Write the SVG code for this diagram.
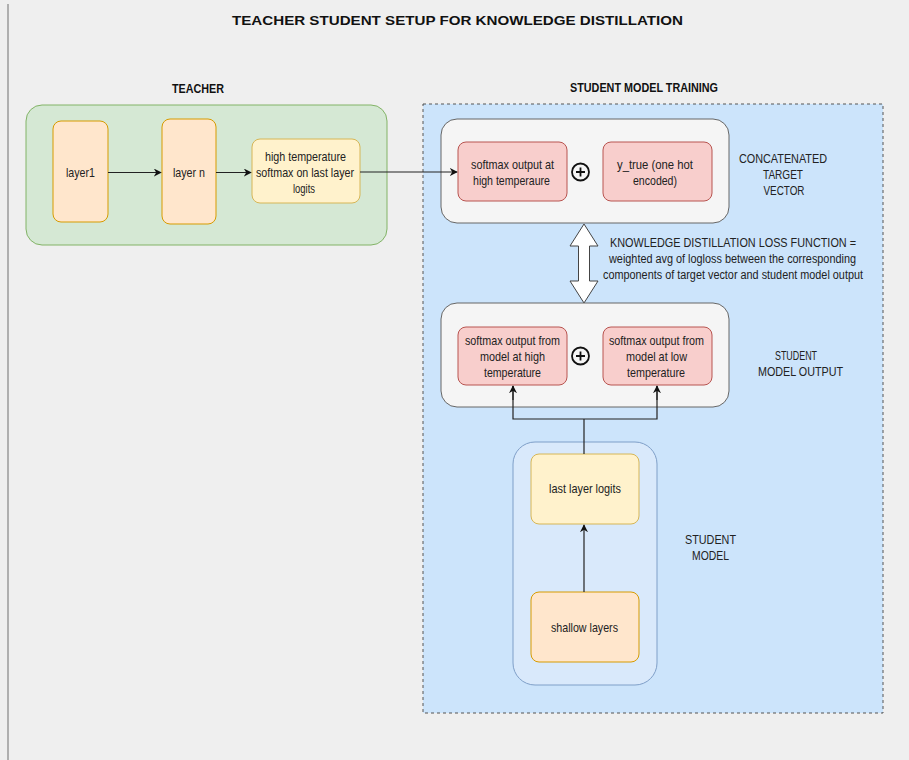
<svg xmlns="http://www.w3.org/2000/svg" width="909" height="760" viewBox="0 0 909 760">
<defs>
<marker id="arr" viewBox="0 0 10 10" refX="9" refY="5" markerWidth="8" markerHeight="8" markerUnits="userSpaceOnUse" orient="auto">
<path d="M0,0 L10,5 L0,10 L3,5 z" fill="#111"/>
</marker>
<style>
text{font-family:"Liberation Sans",Arial,sans-serif;fill:#222;font-size:13px;text-anchor:middle}
.b{font-weight:bold;fill:#111}
.s{font-size:12px}
.orange{fill:#ffe6cc;stroke:#d79b00;stroke-width:1}
.yellow{fill:#fff2cc;stroke:#d6b656;stroke-width:1}
.red{fill:#f8cecc;stroke:#b85450;stroke-width:1}
.white{fill:#f5f5f5;stroke:#666;stroke-width:1}
.edge{fill:none;stroke:#222;stroke-width:1.2}
</style>
</defs>
<rect x="0" y="0" width="909" height="760" fill="#efefef"/>
<line x1="8" y1="4" x2="8" y2="760" stroke="#9a9a9a" stroke-width="1.5"/>

<text class="b" x="457.5" y="25" font-size="17" textLength="451" lengthAdjust="spacingAndGlyphs">TEACHER STUDENT SETUP FOR KNOWLEDGE DISTILLATION</text>
<text class="b" x="198" y="93" textLength="52" lengthAdjust="spacingAndGlyphs">TEACHER</text>
<text class="b" x="644" y="92" textLength="148" lengthAdjust="spacingAndGlyphs">STUDENT MODEL TRAINING</text>

<g id="teacher">
<rect x="26" y="105" width="361" height="140" rx="16" fill="#d5e8d4" stroke="#82b366" stroke-width="1"/>
</g>
<g id="student-training">
<rect x="423" y="104" width="460" height="609" fill="#cce4fb" stroke="#555" stroke-width="1" stroke-dasharray="3,3"/>
</g>

<g id="layer1">
<rect class="orange" x="53" y="121" width="55" height="101" rx="8"/>
<text x="80.5" y="177" textLength="29" lengthAdjust="spacingAndGlyphs">layer1</text>
</g>
<g id="layern">
<rect class="orange" x="162" y="119" width="54" height="105" rx="8"/>
<text x="189" y="177" textLength="32" lengthAdjust="spacingAndGlyphs">layer n</text>
</g>
<g id="teacher-softmax">
<rect class="yellow" x="252" y="139" width="108" height="64" rx="8"/>
<text x="305.5" y="161" textLength="81" lengthAdjust="spacingAndGlyphs">high temperature</text>
<text x="305" y="177" textLength="98" lengthAdjust="spacingAndGlyphs">softmax on last layer</text>
<text x="304" y="193" textLength="22" lengthAdjust="spacingAndGlyphs">logits</text>
</g>

<g id="target-vector">
<rect class="white" x="441" y="119" width="288" height="104" rx="16"/>
</g>
<g id="softmax-high">
<rect class="red" x="458" y="142" width="109" height="59" rx="8"/>
<text x="512.5" y="169" textLength="83" lengthAdjust="spacingAndGlyphs">softmax output at</text>
<text x="511.5" y="185" textLength="77" lengthAdjust="spacingAndGlyphs">high temperaure</text>
</g>
<g id="plus1">
<circle cx="580.5" cy="172" r="8.5" fill="none" stroke="#111" stroke-width="1.8"/>
<path d="M576,172 H585 M580.5,167.5 V176.5" stroke="#111" stroke-width="1.8"/>
</g>
<g id="ytrue">
<rect class="red" x="603" y="142" width="109" height="59" rx="8"/>
<text x="655" y="169" textLength="76" lengthAdjust="spacingAndGlyphs">y_true (one hot</text>
<text x="655" y="185" textLength="44" lengthAdjust="spacingAndGlyphs">encoded)</text>
</g>
<g id="concat-label">
<text x="783" y="163" textLength="88" lengthAdjust="spacingAndGlyphs">CONCATENATED</text>
<text x="783" y="179" textLength="40" lengthAdjust="spacingAndGlyphs">TARGET</text>
<text x="784" y="195" textLength="41" lengthAdjust="spacingAndGlyphs">VECTOR</text>
</g>

<g id="loss">
<polygon points="584,224 598,246 589.5,246 589.5,281 598,281 584,303 570,281 578.5,281 578.5,246 570,246" fill="#fff" stroke="#444" stroke-width="1"/>
<text class="s" x="733" y="247" textLength="246" lengthAdjust="spacingAndGlyphs">KNOWLEDGE DISTILLATION LOSS FUNCTION =</text>
<text class="s" x="732.5" y="263" textLength="247" lengthAdjust="spacingAndGlyphs">weighted avg of logloss between the corresponding</text>
<text class="s" x="733" y="279" textLength="260" lengthAdjust="spacingAndGlyphs">components of target vector and student model output</text>
</g>

<g id="model-output">
<rect class="white" x="441" y="303" width="288" height="104" rx="16"/>
</g>
<g id="softmax-model-high">
<rect class="red" x="458" y="327" width="109" height="58" rx="8"/>
<text x="512.5" y="345" textLength="95" lengthAdjust="spacingAndGlyphs">softmax output from</text>
<text x="512.5" y="361" textLength="65" lengthAdjust="spacingAndGlyphs">model at high</text>
<text x="512.5" y="377" textLength="57" lengthAdjust="spacingAndGlyphs">temperature</text>
</g>
<g id="plus2">
<circle cx="580.5" cy="356" r="8.5" fill="none" stroke="#111" stroke-width="1.8"/>
<path d="M576,356 H585 M580.5,351.5 V360.5" stroke="#111" stroke-width="1.8"/>
</g>
<g id="softmax-model-low">
<rect class="red" x="603" y="327" width="109" height="58" rx="8"/>
<text x="656.5" y="345" textLength="95" lengthAdjust="spacingAndGlyphs">softmax output from</text>
<text x="656.5" y="361" textLength="61" lengthAdjust="spacingAndGlyphs">model at low</text>
<text x="656" y="377" textLength="58" lengthAdjust="spacingAndGlyphs">temperature</text>
</g>
<g id="output-label">
<text x="796" y="360" textLength="42" lengthAdjust="spacingAndGlyphs">STUDENT</text>
<text x="800.5" y="376" textLength="85" lengthAdjust="spacingAndGlyphs">MODEL OUTPUT</text>
</g>

<g id="student-model">
<rect x="513" y="442" width="144" height="243" rx="22" fill="#d9e9fb" stroke="#7f9fc8" stroke-width="1"/>
</g>
<g id="last-layer-logits">
<rect class="yellow" x="531" y="454" width="108" height="70" rx="8"/>
<text x="585" y="493" textLength="72" lengthAdjust="spacingAndGlyphs">last layer logits</text>
</g>
<g id="shallow-layers">
<rect class="orange" x="531" y="592" width="108" height="70" rx="8"/>
<text x="584.5" y="632" textLength="67" lengthAdjust="spacingAndGlyphs">shallow layers</text>
</g>
<g id="model-label">
<text x="710.5" y="544" textLength="51" lengthAdjust="spacingAndGlyphs">STUDENT</text>
<text x="710.5" y="560" textLength="37" lengthAdjust="spacingAndGlyphs">MODEL</text>
</g>

<g id="connectors">
<line class="edge" x1="108" y1="172.5" x2="161" y2="172.5" marker-end="url(#arr)"/>
<line class="edge" x1="216" y1="172.5" x2="251" y2="172.5" marker-end="url(#arr)"/>
<line class="edge" x1="360" y1="172" x2="457" y2="172" marker-end="url(#arr)"/>
<line class="edge" x1="584" y1="592" x2="584" y2="525" marker-end="url(#arr)"/>
<polyline class="edge" points="584,454 584,419"/>
<polyline class="edge" points="513,386 513,419 657,419 657,386"/>
<line class="edge" x1="513" y1="400" x2="513" y2="386" marker-end="url(#arr)"/>
<line class="edge" x1="657" y1="400" x2="657" y2="386" marker-end="url(#arr)"/>
</g>
</svg>
